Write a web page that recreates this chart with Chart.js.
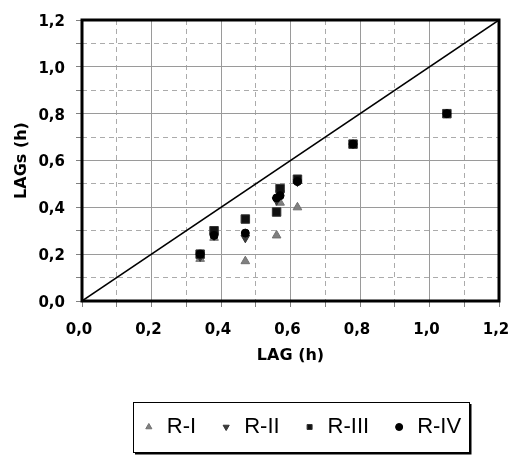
<!DOCTYPE html>
<html><head><meta charset="utf-8">
<script src="https://cdn.jsdelivr.net/npm/chart.js@4/dist/chart.umd.min.js"></script>
<style>html,body{margin:0;padding:0;background:#fff}</style>
</head><body>
<canvas id="c" width="510" height="455"></canvas>
<script>
// ---- data ----
const seriesNames = ['R-I', 'R-II', 'R-III', 'R-IV'];
const lagRI   = [0.34, 0.38, 0.47, 0.56, 0.57, 0.62];
const lagsRI  = [0.18, 0.27, 0.17, 0.28, 0.42, 0.40];
const lagRII  = [0.34, 0.38, 0.47, 0.56, 0.57, 0.62];
const lagsRII = [0.19, 0.28, 0.27, 0.43, 0.46, 0.51];
const lagRIII  = [0.34, 0.38, 0.47, 0.56, 0.57, 0.62, 0.78, 1.05];
const lagsRIII = [0.20, 0.30, 0.35, 0.38, 0.48, 0.52, 0.67, 0.80];
const lagRIV  = [0.34, 0.38, 0.47, 0.56, 0.57, 0.62, 0.78, 1.05];
const lagsRIV = [0.20, 0.28, 0.29, 0.44, 0.45, 0.51, 0.67, 0.80];
const identityX = [0, 1.2];
const identityY = [0, 1.2];
const axisMin = 0, axisMax = 1.2, minorStep = 0.1;
const xTitle = 'LAG (h)';
const yTitle = 'LAGs (h)';

const pts = (xs, ys) => xs.map((x, i) => ({x, y: ys[i]}));
const fmt = v => v.toFixed(1).replace('.', ',');

const tickFont = {family: 'DejaVu Sans', weight: 'bold', size: 15};
const titleFont = {family: 'DejaVu Sans', weight: 'bold', size: 16};

const gridColor = c => (c.index % 2 === 0 ? '#9a9a9a' : '#ababab');
const gridDash = c => (c.index !== undefined && c.index % 2 === 1 ? [5, 4] : []);

const framePlugin = {
  id: 'frame',
  beforeDatasetsDraw(chart) {
    const {ctx, chartArea: a} = chart;
    ctx.save();
    ctx.strokeStyle = '#000';
    ctx.lineWidth = 3;
    ctx.strokeRect(a.left, a.top, a.right - a.left, a.bottom - a.top);
    ctx.restore();
  }
};

const legendPlace = {
  id: 'legendPlace',
  afterLayout(chart) {
    const lg = chart.legend;
    const dx = 52, dy = -7;
    lg.left += dx; lg.right += dx; lg.top += dy; lg.bottom += dy;
  },
  afterDraw(chart) {
    const hb = chart.legend.legendHitBoxes;
    if (!hb || !hb.length) return;
    const l = hb[0].left - 9;
    const last = hb[hb.length - 1];
    const r = last.left + last.width + 8;
    const cy = hb[0].top + hb[0].height / 2;
    const t = cy - 25, b = cy + 25;
    const ctx = chart.ctx;
    ctx.save();
    ctx.strokeStyle = '#000';
    ctx.lineWidth = 1;
    ctx.strokeRect(Math.round(l) + 0.5, Math.round(t) + 0.5, Math.round(r - l), Math.round(b - t));
    ctx.lineWidth = 2;
    ctx.beginPath();
    ctx.moveTo(Math.round(r) + 1.5, Math.round(t) + 2);
    ctx.lineTo(Math.round(r) + 1.5, Math.round(b) + 1.5);
    ctx.lineTo(Math.round(l) + 2, Math.round(b) + 1.5);
    ctx.stroke();
    ctx.restore();
  }
};

new Chart(document.getElementById('c'), {
  type: 'scatter',
  data: {
    datasets: [
      {label: seriesNames[0], data: pts(lagRI, lagsRI), pointStyle: 'triangle', pointRadius: 5,
       backgroundColor: '#808080', borderColor: '#707070', borderWidth: 1, order: 4},
      {label: seriesNames[1], data: pts(lagRII, lagsRII), pointStyle: 'triangle', pointRotation: 180, pointRadius: 5,
       backgroundColor: '#3c3c3c', borderColor: '#333', borderWidth: 1, order: 3},
      {label: seriesNames[2], data: pts(lagRIII, lagsRIII), pointStyle: 'rect', pointRadius: 6,
       backgroundColor: '#111', borderColor: '#333', borderWidth: 1, order: 2},
      {label: seriesNames[3], data: pts(lagRIV, lagsRIV), pointStyle: 'circle', pointRadius: 4,
       backgroundColor: '#000', borderColor: '#000', borderWidth: 1, order: 1},
      {label: '1:1', data: pts(identityX, identityY), showLine: true, pointRadius: 0,
       borderColor: '#000', borderWidth: 1.5, order: 5}
    ]
  },
  options: {
    responsive: false,
    animation: false,
    devicePixelRatio: 1,
    layout: {padding: {top: 13, right: 11, left: 0, bottom: 0}},
    plugins: {
      tooltip: {enabled: false},
      legend: {
        position: 'bottom',
        labels: {
          filter: it => it.datasetIndex < 4,
          sort: (a, b) => a.datasetIndex - b.datasetIndex,
          usePointStyle: true,
          boxWidth: 14,
          boxHeight: 5,
          padding: 23,
          color: '#000',
          font: {family: 'Liberation Sans', size: 22}
        }
      }
    },
    scales: {
      x: {
        type: 'linear', min: axisMin, max: axisMax,
        afterFit(s) { s.height = 99; s.paddingRight = 0; },
        ticks: {stepSize: minorStep, autoSkip: false, maxRotation: 0, padding: 14, labelOffset: -3,
                color: '#000', font: tickFont,
                callback: (v, i) => (i % 2 === 0 ? fmt(v) : '')},
        grid: {color: gridColor, lineWidth: 1, drawTicks: true, tickLength: 6, tickColor: '#808080', tickWidth: 1},
        border: {display: false, dash: gridDash},
        title: {display: true, text: xTitle, color: '#000', font: titleFont, padding: {top: 0, bottom: 35}}
      },
      y: {
        type: 'linear', min: axisMin, max: axisMax,
        afterFit(s) { s.width = 82; },
        ticks: {stepSize: minorStep, autoSkip: false, padding: 11, labelOffset: 2,
                color: '#000', font: tickFont,
                callback: (v, i) => (i % 2 === 0 ? fmt(v) : '')},
        grid: {color: gridColor, lineWidth: 1, drawTicks: true, tickLength: 6, tickColor: '#808080', tickWidth: 1},
        border: {display: false, dash: gridDash},
        title: {display: true, text: yTitle, color: '#000', font: titleFont, padding: {top: 12, bottom: 0}}
      }
    }
  },
  plugins: [framePlugin, legendPlace]
});
</script>
</body></html>
